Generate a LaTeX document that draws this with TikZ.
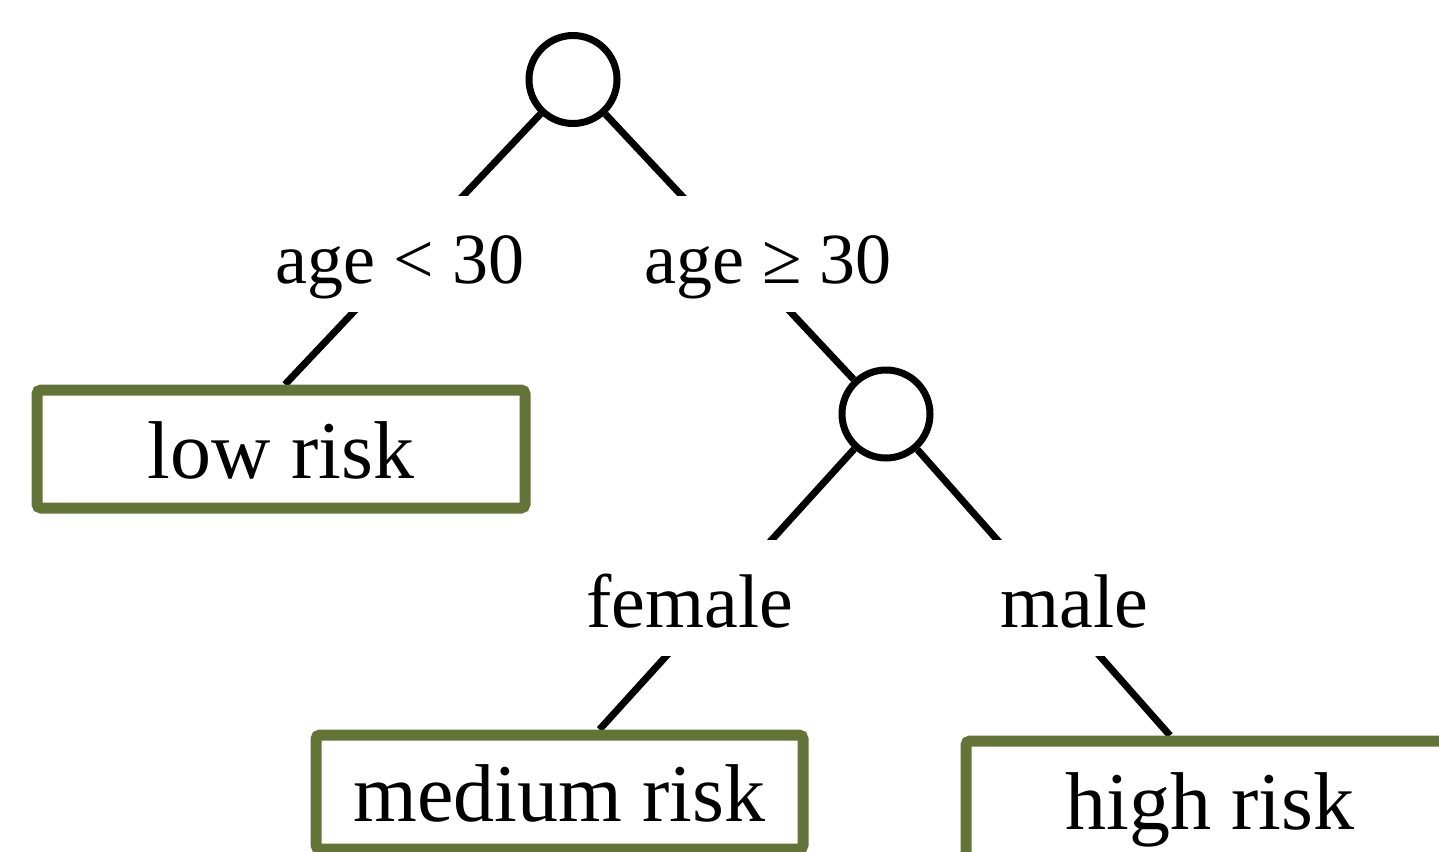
\documentclass[tikz,border=0pt]{standalone}
\usepackage{fontspec}
\setmainfont{Liberation Serif}
\usetikzlibrary{backgrounds}
\definecolor{olive}{RGB}{100,116,56}
\tikzset{
  split/.style={circle,draw=black,fill=white,line width=7pt,minimum size=88pt,inner sep=0pt},
  leaf/.style={rectangle,draw=olive,fill=white,line width=11pt,rounded corners=4pt,inner sep=0pt,
    text height=58pt,text depth=0pt,font=\fontsize{82}{90}\selectfont},
  cond/.style={fill=white,anchor=base,inner xsep=10pt,inner ysep=0pt,text height=87pt,text depth=29pt,
    font=\fontsize{72}{80}\selectfont},
  link/.style={line width=7pt,black}
}
\begin{document}
\begin{tikzpicture}[x=1pt,y=-1pt]
\useasboundingbox (0,0) rectangle (1439,851);
\clip (0,0) rectangle (1439,851);
\node[split] (root) at (573,79.5) {};
\node[split] (sex) at (886,414) {};
\node[leaf,minimum width=488pt,minimum height=118pt] (low) at (281,449) {low risk};
\node[leaf,minimum width=487pt,minimum height=114pt] (med) at (559.5,792) {medium risk};
\node[leaf,minimum width=488pt,minimum height=118pt] (high) at (1210,800) {high risk};
\begin{scope}[on background layer]
\draw[link] (root) -- ([xshift=4pt]low.north);
\draw[link] (root) -- (sex);
\draw[link] (sex) -- ([xshift=40pt]med.north);
\draw[link] (sex) -- ([xshift=-40pt]high.north);
\end{scope}
\node[cond] (young) at (400,283) {age < 30};
\node[cond] (old) at (768,283) {age ≥ 30};
\node[cond,font=\fontsize{76}{84}\selectfont] (fem) at (690,627) {female};
\node[cond,font=\fontsize{76}{84}\selectfont] (mal) at (1074,627) {male};
\end{tikzpicture}
\end{document}
